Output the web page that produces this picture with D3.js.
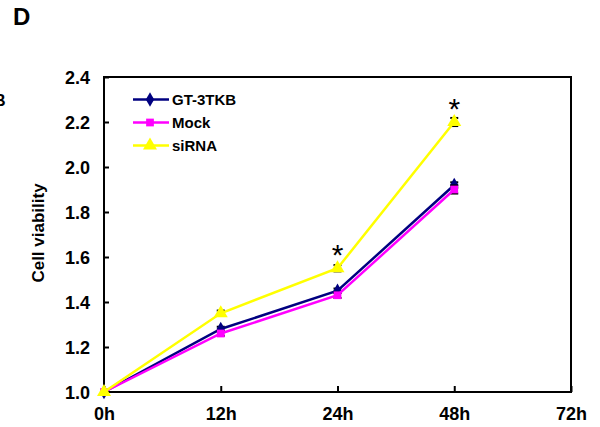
<!DOCTYPE html>
<html>
<head>
<meta charset="utf-8">
<script src="https://cdn.jsdelivr.net/npm/d3@7"></script>
<style>
  html, body { margin: 0; padding: 0; background: #fff; }
  svg { display: block; font-family: Arial, "Liberation Sans", sans-serif; }
</style>
</head>
<body>
<svg id="chart" width="600" height="427"></svg>
<script>
// Time points and tick labels
const timePoints = ["0h", "12h", "24h", "48h", "72h"];
const yTicks = [1.0, 1.2, 1.4, 1.6, 1.8, 2.0, 2.2, 2.4];

// Cell viability per group (0h, 12h, 24h, 48h)
const gtValues   = [1.00, 1.28, 1.45, 1.92];
const mockValues = [1.00, 1.26, 1.43, 1.90];
const sirnaValues = [1.00, 1.35, 1.55, 2.20];

// Standard errors
const gtErrors   = [0.00, 0.010, 0.010, 0.012];
const mockErrors = [0.00, 0.010, 0.012, 0.018];
const sirnaErrors = [0.00, 0.012, 0.014, 0.018];

// Significance marks (per time point)
const sigMarks = ["", "", "*", "*"];

const seriesNames = ["GT-3TKB", "Mock", "siRNA"];
const seriesColors = ["#000080", "#ff00ff", "#ffff00"];
const seriesShapes = [d3.symbolDiamond, d3.symbolSquare, d3.symbolTriangle];
const seriesSizes = [60, 60, 85];

const series = seriesNames.map((name, i) => ({
  name,
  color: seriesColors[i],
  shape: seriesShapes[i],
  size: seriesSizes[i],
  values: [gtValues, mockValues, sirnaValues][i],
  errors: [gtErrors, mockErrors, sirnaErrors][i]
}));

const svg = d3.select("#chart");
const plotLeft = 104, plotRight = 571, plotTop = 77, plotBottom = 392;
const fontStack = "Arial, 'Liberation Sans', sans-serif";

const x = d3.scalePoint().domain(timePoints).range([plotLeft, plotRight]);
const y = d3.scaleLinear().domain([1.0, 2.4]).range([plotBottom, plotTop]);

// Panel letter and the edge of the neighbouring panel's letter
svg.append("text").attr("x", 13).attr("y", 25)
  .attr("font-size", 24).attr("font-weight", "bold").text("D");
svg.append("text").attr("x", -6).attr("y", 106)
  .attr("font-size", 16).attr("font-weight", "bold").text("B");

// Plot frame
svg.append("rect")
  .attr("x", plotLeft).attr("y", plotTop)
  .attr("width", plotRight - plotLeft).attr("height", plotBottom - plotTop)
  .attr("fill", "none").attr("stroke", "#000").attr("stroke-width", 2);

// Y axis with inward ticks
const yAxis = svg.append("g").attr("transform", `translate(${plotLeft},0)`)
  .call(d3.axisRight(y).tickValues(yTicks).tickSize(5).tickFormat(d3.format(".1f")));
yAxis.select(".domain").remove();
yAxis.selectAll(".tick line").attr("stroke", "#000").attr("stroke-width", 2);
yAxis.selectAll(".tick text")
  .attr("x", -14).attr("dy", "0.36em").attr("text-anchor", "end")
  .attr("font-size", 18).attr("font-weight", "bold")
  .attr("font-family", fontStack)
  .attr("fill", "#000");

// X axis with inward ticks
const xAxis = svg.append("g").attr("transform", `translate(0,${plotBottom})`)
  .call(d3.axisTop(x).tickSize(6));
xAxis.select(".domain").remove();
xAxis.selectAll(".tick line").attr("stroke", "#000").attr("stroke-width", 2);
xAxis.selectAll(".tick text")
  .attr("y", 28).attr("dy", 0)
  .attr("font-size", 18).attr("font-weight", "bold")
  .attr("font-family", fontStack)
  .attr("fill", "#000");

// Axis title
svg.append("text")
  .attr("transform", "translate(44,233) rotate(-90)")
  .attr("text-anchor", "middle")
  .attr("font-size", 17).attr("font-weight", "bold")
  .text("Cell viability");

const line = d3.line()
  .x((d, i) => x(timePoints[i]))
  .y(d => y(d));

series.forEach(s => {
  const g = svg.append("g");
  // Error bars
  s.values.forEach((v, i) => {
    const e = s.errors[i];
    if (!e) return;
    const cx = x(timePoints[i]);
    g.append("line").attr("x1", cx).attr("x2", cx)
      .attr("y1", y(v - e)).attr("y2", y(v + e))
      .attr("stroke", "#000").attr("stroke-width", 1.5);
    [v - e, v + e].forEach(t => {
      g.append("line").attr("x1", cx - 4).attr("x2", cx + 4)
        .attr("y1", y(t)).attr("y2", y(t))
        .attr("stroke", "#000").attr("stroke-width", 2);
    });
  });
  g.append("path").datum(s.values)
    .attr("d", line).attr("fill", "none")
    .attr("stroke", s.color).attr("stroke-width", 2.5);
  g.selectAll(".pt").data(s.values).join("path")
    .attr("transform", (d, i) => `translate(${x(timePoints[i])},${y(d)})`)
    .attr("d", d3.symbol().type(s.shape).size(s.size))
    .attr("fill", s.color);
});

// Significance asterisks above siRNA
sirnaValues.forEach((v, i) => {
  if (!sigMarks[i]) return;
  svg.append("text")
    .attr("x", x(timePoints[i])).attr("y", y(v) - 3)
    .attr("text-anchor", "middle").attr("font-size", 30)
    .attr("font-family", fontStack)
    .text(sigMarks[i]);
});

// Legend
const legend = svg.append("g");
series.forEach((s, i) => {
  const ly = 99.5 + i * 23;
  legend.append("line").attr("x1", 133).attr("x2", 169)
    .attr("y1", ly).attr("y2", ly)
    .attr("stroke", s.color).attr("stroke-width", 2.5);
  legend.append("path")
    .attr("transform", `translate(150,${ly})`)
    .attr("d", d3.symbol().type(s.shape).size(s.size))
    .attr("fill", s.color);
  legend.append("text").attr("x", 172).attr("y", ly + 5.5)
    .attr("font-size", 15).attr("font-weight", "bold")
    .text(s.name);
});
</script>
</body>
</html>
